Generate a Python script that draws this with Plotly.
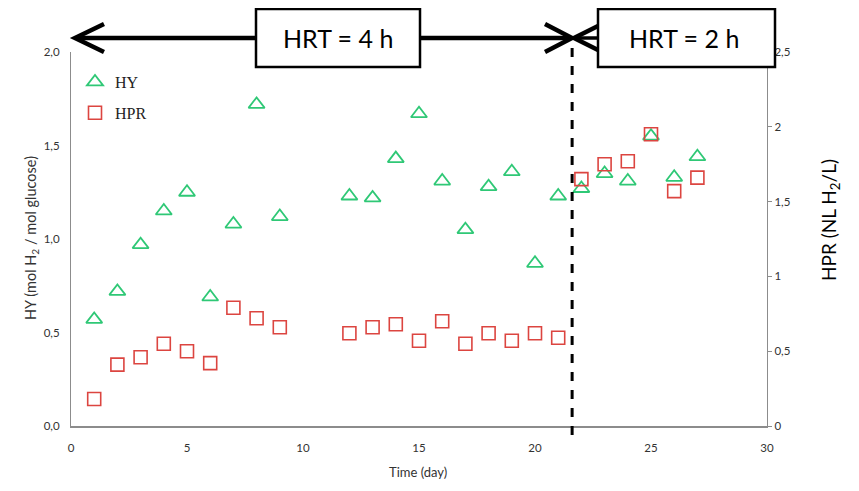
import plotly.graph_objects as go

days = [1, 2, 3, 4, 5, 6, 7, 8, 9, 12, 13, 14, 15, 16, 17, 18, 19, 20, 21, 22, 23, 24, 25, 26, 27]
hy = [0.57, 0.72, 0.97, 1.15, 1.25, 0.69, 1.08, 1.72, 1.12, 1.23, 1.22, 1.43, 1.67, 1.31, 1.05,
      1.28, 1.36, 0.87, 1.23, 1.27, 1.35, 1.31, 1.55, 1.33, 1.44]
hpr = [0.18, 0.41, 0.46, 0.55, 0.50, 0.42, 0.79, 0.72, 0.66, 0.62, 0.66, 0.68, 0.57, 0.70, 0.55,
       0.62, 0.57, 0.62, 0.59, 1.65, 1.75, 1.77, 1.95, 1.57, 1.66]

x_ticks = [0, 5, 10, 15, 20, 25, 30]
y1_ticks = [0, 0.5, 1.0, 1.5, 2.0]
y1_labels = ["0,0", "0,5", "1,0", "1,5", "2,0"]
y2_ticks = [0, 0.5, 1, 1.5, 2, 2.5]
y2_labels = ["0", "0,5", "1", "1,5", "2", "2,5"]
hrt_change = 21.6
hrt_labels = ["HRT = 4 h", "HRT = 2 h"]

GREEN = "#2fc876"
RED = "#dc4540"
GREY = "#8c8c8c"
TXT = "#333333"
FONT = "Lato, Open Sans, sans-serif"

fig = go.Figure()
fig.add_trace(go.Scatter(
    x=days, y=hy, mode="markers", name="HY", legendgroup="a",
    marker=dict(symbol="triangle-up-open", size=14, color=GREEN, line=dict(width=1.8, color=GREEN)),
))
fig.add_trace(go.Scatter(
    x=days, y=hpr, mode="markers", name="HPR", legendgroup="b", yaxis="y2",
    marker=dict(symbol="square-open", size=13, color=RED, line=dict(width=1.6, color=RED)),
))

OFF = 8  # page body margin
W, H = 859, 491
L, T = 71 - OFF, 52 - OFF
pw, ph = 696, 374
R = W - L - pw
B = H - T - ph


def px_x(p):
    return (p - OFF - L) / pw


def px_y(p):
    return (T + ph - (p - OFF)) / ph


shapes = []
ya = px_y(38)
shapes.append(dict(type="line", xref="x", yref="paper", x0=hrt_change, x1=hrt_change,
                   y0=px_y(435), y1=ya, line=dict(color="black", width=3, dash="dash"), layer="above"))
shapes.append(dict(type="line", xref="paper", yref="paper", x0=px_x(76), x1=px_x(570),
                   y0=ya, y1=ya, line=dict(color="black", width=4.5), layer="above"))


def chevron(tip, dx, dy):
    return dict(type="path", xref="paper", yref="paper",
                path=f"M {px_x(tip + dx)},{px_y(38 - dy)} L {px_x(tip)},{ya} L {px_x(tip + dx)},{px_y(38 + dy)}",
                line=dict(color="black", width=4.5), layer="above")


shapes.append(chevron(75, 29, 14))
shapes.append(chevron(572, -27, 14))
shapes.append(chevron(574, 24, 12))
shapes.append(dict(type="line", xref="paper", yref="paper", x0=px_x(575), x1=px_x(598),
                   y0=ya, y1=ya, line=dict(color="black", width=3.5), layer="above"))
shapes.append(dict(type="rect", xref="paper", yref="paper", x0=px_x(256), x1=px_x(420),
                   y0=px_y(67), y1=px_y(9), fillcolor="white", line=dict(color="black", width=2.5), layer="above"))
shapes.append(dict(type="rect", xref="paper", yref="paper", x0=px_x(598), x1=px_x(775),
                   y0=px_y(67), y1=px_y(9), fillcolor="white", line=dict(color="black", width=2.5), layer="above"))

annotations = [
    dict(text=hrt_labels[0], xref="paper", yref="paper", x=px_x(338), y=px_y(38), showarrow=False,
         font=dict(family=FONT, size=25, color="black"), xanchor="center", yanchor="middle"),
    dict(text=hrt_labels[1], xref="paper", yref="paper", x=px_x(684), y=px_y(38), showarrow=False,
         font=dict(family=FONT, size=25, color="black"), xanchor="center", yanchor="middle"),
    dict(text="HPR (NL H<sub>2</sub>/L)", xref="paper", yref="paper", x=px_x(830), y=px_y(220),
         showarrow=False, textangle=-90, font=dict(family=FONT, size=19, color="black"),
         xanchor="center", yanchor="middle"),
    dict(text="Time (day)", xref="paper", yref="paper", x=px_x(418), y=px_y(472), showarrow=False,
         font=dict(family=FONT, size=13, color=TXT), xanchor="center", yanchor="middle"),
    dict(text="HY (mol H<sub>2</sub> / mol glucose)", xref="paper", yref="paper", x=px_x(31), y=px_y(238),
         showarrow=False, textangle=-90, font=dict(family=FONT, size=14.5, color=TXT),
         xanchor="center", yanchor="middle"),
]

fig.update_layout(
    width=W, height=H,
    margin=dict(l=L, r=R, t=T, b=B, autoexpand=False),
    paper_bgcolor="white", plot_bgcolor="white",
    showlegend=True,
    legend=dict(x=px_x(75), y=px_y(65), xanchor="left", yanchor="top",
                font=dict(family="Liberation Serif, serif", size=16, color="#222222"),
                bgcolor="rgba(0,0,0,0)", traceorder="grouped", tracegroupgap=7,
                itemwidth=30),
    xaxis=dict(range=[0, 30], tickvals=x_ticks, showgrid=False, zeroline=False,
               showline=True, linecolor=GREY, linewidth=1.5, ticks="", ticklabelstandoff=10,
               tickfont=dict(family=FONT, size=11.5, color=TXT)),
    yaxis=dict(range=[0, 2], tickvals=y1_ticks, ticktext=y1_labels, showgrid=False, zeroline=False,
               showline=True, linecolor=GREY, linewidth=1.2, ticks="outside", ticklen=8,
               tickcolor="rgba(0,0,0,0)", tickfont=dict(family=FONT, size=11.5, color=TXT)),
    yaxis2=dict(range=[0, 2.5], tickvals=y2_ticks, ticktext=y2_labels, overlaying="y", side="right",
                showgrid=False, zeroline=False, showline=True, linecolor=GREY, linewidth=1.2,
                ticks="outside", ticklen=4, tickcolor=GREY,
                tickfont=dict(family=FONT, size=11.5, color=TXT)),
    shapes=shapes,
    annotations=annotations,
)

fig.write_html("out.html")
